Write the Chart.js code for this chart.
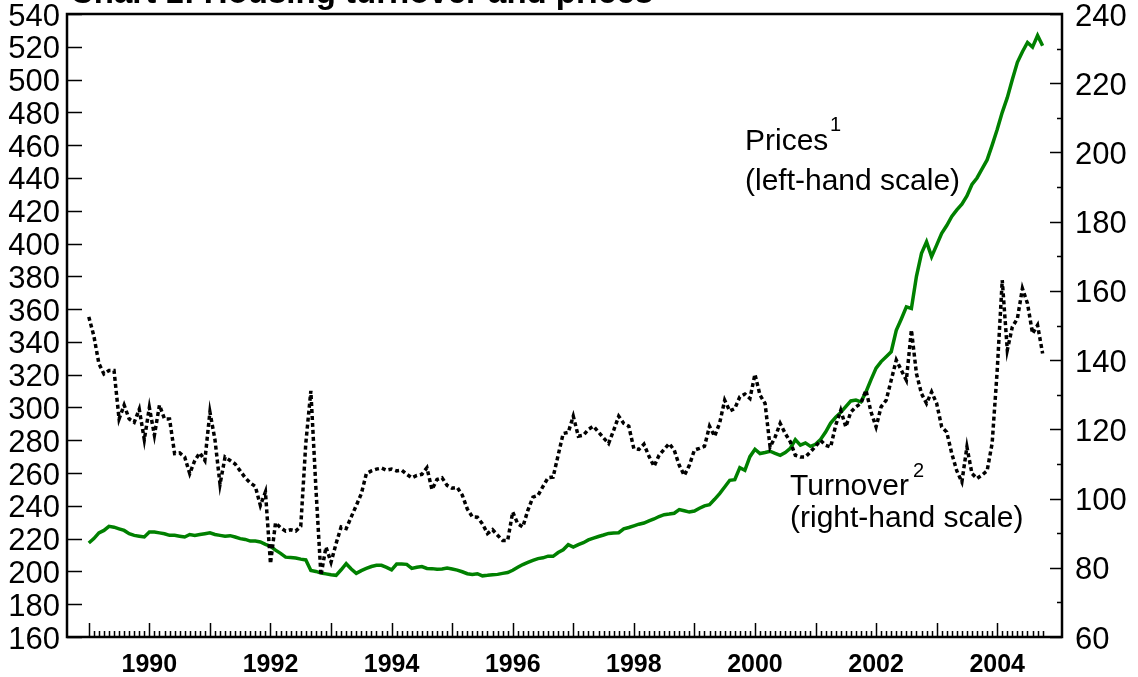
<!DOCTYPE html>
<html>
<head>
<meta charset="utf-8">
<script src="https://cdn.jsdelivr.net/npm/chart.js@4.4.1/dist/chart.umd.min.js"></script>
<style>
    html, body { margin: 0; padding: 0; background: #fff; overflow: hidden; }
    #wrap { position: relative; width: 1138px; height: 677px; }
</style>
</head>
<body>
<div id="wrap"><canvas id="chart" width="1138" height="677"></canvas></div>
<script>
// monthly series, first observation January 1989
const START_YEAR = 1989;

// house prices, left-hand scale (one row per year)
const prices = [
    217.3, 220, 223.5, 225, 227.5, 227, 226, 225, 223, 222, 221.5, 221,
    224, 224, 223.5, 223, 222, 222, 221.5, 221, 222.5, 222, 222.5, 223,
    223.5, 222.5, 222, 221.5, 221.8, 221, 220, 219.5, 218.5, 218.5, 218, 216.5,
    215.3, 213, 211, 208.7, 208.5, 208.2, 207.5, 207, 200.6, 200, 199, 198.5,
    198, 197.6, 201, 204.7, 201.5, 198.8, 200.5, 201.8, 203, 203.7, 203.7, 202.5,
    201, 204.5, 204.5, 204.3, 201.8, 202.5, 203, 201.8, 201.7, 201.3, 201.5, 202,
    201.5, 200.8, 199.8, 198.6, 198.2, 198.6, 197.3, 197.6, 198, 198.2, 198.8, 199.3,
    200.7, 202.5, 204.2, 205.5, 206.7, 207.8, 208.3, 209.3, 209.2, 211.5, 213.2, 216.3,
    214.8, 216.3, 217.5, 219.2, 220.3, 221.3, 222.2, 223.2, 223.5, 223.6, 226, 226.8,
    227.8, 228.8, 229.5, 230.8, 232, 233.5, 234.6, 235, 235.5, 237.7, 237, 236.2,
    236.8, 238.5, 240, 240.7, 244, 247.5, 251.5, 255.6, 256, 263.3, 261.7, 270,
    274.5, 271.9, 272.5, 273.3, 272, 270.8, 272.5, 275, 280.4, 277, 278.4, 276.3,
    277.5, 280.5, 285, 290.5, 294, 297, 300.5, 304, 304.5, 303.4, 309.5, 317,
    324, 328, 331, 334, 347, 354, 361.4, 360.4, 380, 394, 401, 392,
    399, 406.2, 411, 416.5, 420.5, 424, 429, 436, 440, 445.5, 451, 460,
    469.5, 480, 489, 500, 510.5, 517, 522.6, 519.8, 526.9, 520.6
];

// housing turnover, right-hand scale
const turnover = [
    152.5, 147, 139, 136, 137, 137, 123, 127, 123, 122, 125.8, 117,
    126.3, 118.3, 127, 123, 123, 113, 113.2, 112, 107.2, 111, 113.2, 111,
    125, 117, 104.1, 112, 111, 110, 108, 106, 104.5, 103.5, 98, 101.9,
    81.2, 93, 91.6, 90.6, 91, 90.6, 92, 116, 131.1, 103, 77.8, 86,
    81.6, 87, 91.8, 91.3, 94.7, 98, 101.4, 107.2, 108, 108.5, 108.8, 108.2,
    108.5, 108, 108.2, 107, 106, 106.7, 107, 108.9, 102.6, 105.5, 106, 103.8,
    103, 103.2, 101, 97, 94.7, 94.6, 92.7, 89.9, 91, 89.4, 87.9, 87.9,
    96.1, 92.7, 91.8, 96.6, 100.4, 100.9, 103.5, 106, 106.2, 112.5, 118.8, 119.1,
    123.8, 118, 118.3, 120, 120.9, 119.2, 117.5, 115.9, 119.7, 123.8, 121.7, 120.9,
    114.4, 114.2, 115.7, 112.2, 109.3, 112.5, 114.2, 115.9, 114, 109.6, 106.7, 109.6,
    114, 114.5, 115.1, 120.9, 118, 121.8, 128.4, 125.3, 126, 129.4, 130.2, 128.9,
    135.9, 129.9, 127.5, 114.9, 117.8, 121.7, 118.8, 116.4, 112.5, 112, 112, 113.5,
    115.1, 116.8, 115.4, 114.9, 121.2, 125.5, 120.7, 125, 126.5, 127.5, 131.3, 125,
    120.7, 126.5, 128.4, 134.2, 140, 137.1, 134.2, 148.7, 136.1, 130.3, 127.5, 130.8,
    127.5, 120.7, 119.2, 113, 108, 104.8, 114.9, 107.2, 105.8, 106.8, 108, 116,
    137, 163.1, 142.9, 149.6, 152, 160.7, 156.4, 147.7, 150.1, 141.9
];

const labelYears = [1990, 1992, 1994, 1996, 1998, 2000, 2002, 2004]; // подписи оси X
const leftRange = [160, 540]; // левая шкала
const rightRange = [60, 240]; // правая шкала

const FONT = "'Liberation Sans', Arial, sans-serif";
const toPoints = (arr) => arr.map((v, i) => ({ x: START_YEAR + i / 12, y: v }));
const noPad = (s, w) => { // фиксированная ширина оси без запаса под подписи
    s.width = w;
    s.paddingTop = 0;
    s.paddingBottom = 0;
};

// рамка, засечки внутрь и подписи серий
const frame = {
    id: 'frame',
    afterDraw(chart) {
        const { ctx, chartArea: a, scales: { x, y, y1 } } = chart;
        ctx.save();
        ctx.strokeStyle = '#000';
        ctx.lineWidth = 1.5;
        ctx.beginPath();
        prices.forEach((_, i) => { // месячные засечки, годовые длиннее
            const px = Math.round(x.getPixelForValue(START_YEAR + i / 12)) + 0.5;
            ctx.moveTo(px, a.bottom);
            ctx.lineTo(px, a.bottom - (i % 12 === 0 ? 14 : 6));
        });
        y.ticks.forEach(t => {
            const py = Math.round(y.getPixelForValue(t.value)) + 0.5;
            ctx.moveTo(a.left, py);
            ctx.lineTo(a.left + 15, py);
        });
        y1.ticks.forEach(t => {
            const py = Math.round(y1.getPixelForValue(t.value)) + 0.5;
            ctx.moveTo(a.right, py);
            ctx.lineTo(a.right - (t.value % 20 === 0 ? 12 : 5), py);
        });
        ctx.stroke();
        ctx.lineWidth = 2.5;
        ctx.strokeRect(a.left, a.top, a.right - a.left, a.bottom - a.top);

        ctx.fillStyle = '#000';
        ctx.textBaseline = 'alphabetic';
        ctx.font = `bold 33px ${FONT}`;
        ctx.fillText('Chart 1: Housing turnover and prices', 70, 3);
        ctx.font = `30px ${FONT}`;
        ctx.fillText('Prices', 745, 150);
        ctx.fillText('(left-hand scale)', 745, 190);
        ctx.fillText('Turnover', 790, 495);
        ctx.fillText('(right-hand scale)', 790, 527);
        ctx.font = `20px ${FONT}`;
        ctx.fillText('1', 830, 131);
        ctx.fillText('2', 913, 477);
        ctx.restore();
    }
};

new Chart(document.getElementById('chart'), {
    type: 'line',
    data: {
        datasets: [
            {
                label: 'Turnover',
                data: toPoints(turnover),
                yAxisID: 'y1',
                borderColor: '#000',
                borderWidth: 3.5,
                borderDash: [4, 3],
                pointRadius: 0,
                tension: 0,
                order: 0,
            },
            {
                label: 'Prices',
                data: toPoints(prices),
                yAxisID: 'y',
                borderColor: '#008000',
                borderWidth: 3.5,
                pointRadius: 0,
                tension: 0,
                order: 1,
            },
        ],
    },
    options: {
        responsive: false,
        animation: false,
        layout: { padding: { top: 14, left: 0, right: 0, bottom: 0 } },
        plugins: { legend: { display: false }, tooltip: { enabled: false } },
        scales: {
            x: {
                type: 'linear',
                min: 1988.64,
                max: 2005.07,
                afterFit: s => { s.height = 40; s.paddingLeft = 0; s.paddingRight = 0; },
                afterBuildTicks: s => { s.ticks = labelYears.map(v => ({ value: v })); },
                grid: { display: false, drawTicks: false },
                border: { display: false },
                ticks: {
                    color: '#000', padding: 13, maxRotation: 0, autoSkip: false,
                    font: { family: FONT, size: 25, weight: 'bold' },
                    callback: v => String(v),
                },
            },
            y: {
                position: 'left',
                min: leftRange[0],
                max: leftRange[1],
                afterFit: s => noPad(s, 67),
                grid: { display: false, drawTicks: false },
                border: { display: false },
                ticks: {
                    stepSize: 20, color: '#000', padding: 7, labelOffset: 3, autoSkip: false,
                    font: { family: FONT, size: 31 },
                },
            },
            y1: {
                position: 'right',
                min: rightRange[0],
                max: rightRange[1],
                afterFit: s => noPad(s, 76),
                grid: { display: false, drawTicks: false },
                border: { display: false },
                ticks: {
                    stepSize: 10, color: '#000', padding: 13, labelOffset: 3, autoSkip: false,
                    font: { family: FONT, size: 31 },
                    callback: v => (v % 20 === 0 ? String(v) : ''),
                },
            },
        },
    },
    plugins: [frame],
});
</script>
</body>
</html>
